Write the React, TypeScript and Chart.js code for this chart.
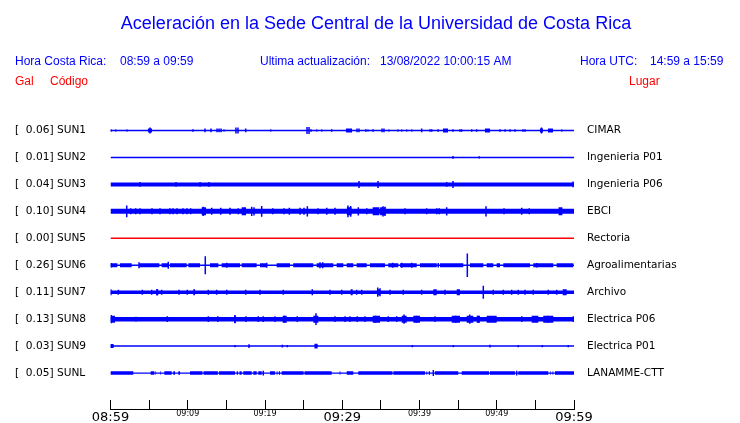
import { useEffect, useRef } from 'react';
import { Chart, registerables } from 'chart.js';

Chart.register(...registerables);

// ---------- header texts ----------
const TITLE = 'Aceleración en la Sede Central de la Universidad de Costa Rica';
const HORA_CR = ['Hora Costa Rica:', '08:59 a 09:59'];
const ACTUALIZACION = ['Ultima actualización:', '13/08/2022 10:00:15 AM'];
const HORA_UTC = ['Hora UTC:', '14:59 a 15:59'];
const COLUMN_HEADS = ['Gal', 'Código', 'Lugar'];

// ---------- stations ----------
const STATIONS = ['SUN1', 'SUN2', 'SUN3', 'SUN4', 'SUN5', 'SUN6', 'SUN7', 'SUN8', 'SUN9', 'SUNL'];
const PEAK_GAL = [0.06, 0.01, 0.04, 0.10, 0.00, 0.26, 0.11, 0.13, 0.03, 0.05];
const PLACES = ['CIMAR', 'Ingenieria P01', 'Ingenieria P06', 'EBCI', 'Rectoria', 'Agroalimentarias', 'Archivo', 'Electrica P06', 'Electrica P01', 'LANAMME-CTT'];

// time axis: minutes after 08:59
const TIME_TICKS = [0, 5, 10, 15, 20, 25, 30, 35, 40, 45, 50, 55, 60];
const TIME_LABELS = ['08:59', '', '09:09', '', '09:19', '', '09:29', '', '09:39', '', '09:49', '', '09:59'];
const MAJOR_TIMES = [0, 30, 60];

// bursts: [startMinute, endMinute] ; spikes: [minute, half amplitude in row units]
const SUN1_BURSTS = [[4.85, 5.37], [30.48, 31.26], [43.04, 43.69], [48.48, 49.13], [55.6, 55.99], [56.63, 57.28]];
const SUN1_SPIKES = [[0.06, 0.05], [0.67, 0.04], [2.14, 0.04], [5.11, 0.11], [10.68, 0.05], [12.23, 0.07], [13.01, 0.07], [13.79, 0.07], [14.05, 0.07], [14.31, 0.07], [14.69, 0.04], [16.24, 0.11], [16.5, 0.11], [17.5, 0.07], [20.74, 0.04], [25.44, 0.13], [25.7, 0.13], [25.95, 0.05], [26.69, 0.04], [27.34, 0.04], [28.63, 0.05], [31.91, 0.07], [32.17, 0.07], [33.06, 0.05], [33.33, 0.04], [33.98, 0.05], [35.15, 0.07], [35.4, 0.07], [36.05, 0.04], [37.22, 0.04], [37.7, 0.04], [38.34, 0.04], [38.99, 0.04], [40.28, 0.07], [41.36, 0.05], [41.58, 0.05], [42.4, 0.05], [44.33, 0.05], [45.24, 0.05], [45.46, 0.05], [46.76, 0.05], [47.4, 0.05], [50.42, 0.05], [51.07, 0.05], [51.72, 0.05], [52.36, 0.05], [53.4, 0.05], [53.66, 0.05], [55.79, 0.11], [58.41, 0.04]];

const SUN2_BURSTS: number[][] = [];
const SUN2_SPIKES = [[44.33, 0.05], [47.74, 0.04]];

const SUN3_BURSTS: number[][] = [];
const SUN3_SPIKES = [[3.82, 0.09], [8.48, 0.09], [11.59, 0.09], [12.75, 0.09], [32.17, 0.13], [34.63, 0.13], [43.52, 0.09], [44.33, 0.13], [59.87, 0.11]];

const SUN4_BURSTS = [[11.81, 12.36], [16.98, 17.54], [30.6, 31.2], [33.94, 34.8], [34.9, 35.6], [58.0, 58.5]];
const SUN4_SPIKES = [[2.1, 0.22], [2.61, 0.11], [3.26, 0.11], [3.82, 0.11], [5.37, 0.11], [6.41, 0.11], [7.7, 0.11], [8.09, 0.11], [8.61, 0.11], [9.39, 0.11], [9.9, 0.11], [10.38, 0.11], [12.0, 0.17], [13.1, 0.13], [14.27, 0.13], [15.47, 0.13], [16.54, 0.11], [18.28, 0.17], [18.58, 0.15], [19.57, 0.2], [21.0, 0.11], [22.46, 0.11], [23.15, 0.13], [24.53, 0.13], [25.05, 0.13], [25.48, 0.19], [26.86, 0.11], [27.99, 0.13], [29.06, 0.13], [30.74, 0.22], [31.09, 0.2], [32.08, 0.15], [33.17, 0.11], [35.28, 0.19], [35.53, 0.17], [38.12, 0.11], [40.93, 0.11], [42.23, 0.11], [42.56, 0.11], [43.52, 0.15], [48.61, 0.19], [50.94, 0.11], [53.23, 0.13], [54.21, 0.11]];

const SUN5_BURSTS: number[][] = [];
const SUN5_SPIKES: number[][] = [];

const SUN6_BURSTS = [[0, 0.88], [1.23, 2.74], [3.73, 6.32], [6.62, 7.48], [7.7, 9.86], [10.08, 11.59], [12.88, 13.96], [14.39, 16.76], [16.98, 18.92], [19.35, 20.22], [21.51, 23.24], [23.66, 26.25], [26.69, 28.84], [29.28, 30.14], [30.58, 31.43], [31.87, 33.17], [33.59, 35.53], [35.96, 37.26], [37.48, 39.64], [40.06, 42.23], [42.65, 45.67], [46.54, 48.26], [48.7, 49.55], [49.99, 50.42], [50.85, 54.31], [54.73, 57.32], [57.76, 59.91]];
const SUN6_SPIKES = [[0.1, 0.08], [3.69, 0.11], [7.48, 0.13], [12.27, 0.33], [15.04, 0.09], [20.22, 0.09], [27.12, 0.11], [27.47, 0.11], [36.53, 0.09], [37.7, 0.09], [38.99, 0.09], [42.43, 0.08], [46.19, 0.44], [55.17, 0.08]];

const SUN7_BURSTS = [[5.89, 6.19], [10.72, 10.94], [31.09, 31.35], [34.59, 34.89], [41.79, 42.23], [44.82, 45.24], [58.54, 59.05]];
const SUN7_SPIKES = [[0.05, 0.11], [1.01, 0.09], [4.12, 0.09], [5.33, 0.09], [6.04, 0.11], [6.62, 0.09], [8.87, 0.09], [9.94, 0.09], [12.66, 0.09], [13.74, 0.09], [15.04, 0.09], [17.5, 0.09], [19.35, 0.09], [22.37, 0.09], [26.12, 0.11], [28.41, 0.09], [29.93, 0.09], [31.87, 0.09], [32.52, 0.09], [34.59, 0.17], [34.89, 0.15], [36.18, 0.09], [37.9, 0.09], [40.28, 0.09], [43.3, 0.09], [48.26, 0.24], [49.55, 0.09], [50.85, 0.09], [51.93, 0.09], [52.79, 0.09], [53.66, 0.09], [54.73, 0.09], [56.67, 0.09], [57.76, 0.09]];

const SUN8_BURSTS = [[0, 0.58], [16.03, 16.25], [22.29, 22.81], [26.25, 26.9], [33.94, 34.89], [37.7, 38.34], [39.2, 40.06], [44.17, 45.24], [46.11, 46.97], [47.4, 47.83], [48.7, 49.99], [54.52, 55.38], [56.02, 57.32]];
const SUN8_SPIKES = [[0.1, 0.15], [3.3, 0.09], [7.35, 0.11], [12.66, 0.11], [13.88, 0.11], [16.1, 0.15], [17.54, 0.11], [19.13, 0.11], [19.78, 0.11], [21.29, 0.11], [22.5, 0.13], [24.18, 0.11], [26.6, 0.22], [29.06, 0.11], [30.36, 0.11], [31.0, 0.11], [31.95, 0.11], [32.94, 0.11], [34.3, 0.13], [35.96, 0.11], [37.05, 0.11], [38.0, 0.17], [39.6, 0.13], [42.01, 0.11], [44.7, 0.13], [46.5, 0.17], [47.6, 0.13], [49.3, 0.11], [53.23, 0.11], [55.0, 0.11], [56.6, 0.13], [59.91, 0.11]];

const SUN9_BURSTS = [[0, 0.36], [26.47, 26.77]];
const SUN9_SPIKES = [[0.1, 0.07], [0.3, 0.07], [16.12, 0.04], [17.93, 0.07], [22.24, 0.05], [22.89, 0.04], [26.5, 0.09], [26.7, 0.09], [39.07, 0.04], [44.38, 0.04], [49.13, 0.05], [52.79, 0.04], [55.9, 0.04], [59.26, 0.04]];

const SUNL_BURSTS = [[0, 2.95], [3.05, 3.12], [3.35, 3.43], [3.7, 3.77], [5.2, 5.67], [5.82, 5.9], [6.15, 6.23], [6.46, 6.54], [6.97, 7.92], [8.13, 8.35], [8.78, 9.0], [9.27, 9.34], [10.29, 11.9], [12.05, 13.9], [14.05, 16.12], [16.34, 16.5], [16.7, 16.98], [17.19, 18.28], [18.49, 18.92], [19.13, 19.57], [20.65, 21.29], [21.51, 21.62], [21.8, 21.94], [22.16, 25.0], [25.12, 28.63], [29.66, 29.76], [30.1, 30.19], [30.58, 31.43], [32.08, 36.5], [36.62, 40.71], [40.9, 41.0], [41.2, 41.36], [42.01, 45.02], [45.46, 49.0], [49.12, 52.36], [52.79, 56.67], [56.89, 56.98], [57.22, 57.32], [57.54, 60]];
const SUNL_SPIKES = [[19.78, 0.09], [41.79, 0.11], [52.58, 0.09]];

const ALL_BURSTS = [SUN1_BURSTS, SUN2_BURSTS, SUN3_BURSTS, SUN4_BURSTS, SUN5_BURSTS, SUN6_BURSTS, SUN7_BURSTS, SUN8_BURSTS, SUN9_BURSTS, SUNL_BURSTS];
const ALL_SPIKES = [SUN1_SPIKES, SUN2_SPIKES, SUN3_SPIKES, SUN4_SPIKES, SUN5_SPIKES, SUN6_SPIKES, SUN7_SPIKES, SUN8_SPIKES, SUN9_SPIKES, SUNL_SPIKES];

// ---------- styles ----------
const BLUE = '#0000ff';
const RED = '#ff0000';
const TRACE_COLORS = [BLUE, BLUE, BLUE, BLUE, RED, BLUE, BLUE, BLUE, BLUE, BLUE];
const BASE_WIDTH = [1.5, 1.5, 4, 5, 1.5, 1.5, 3.5, 4.5, 1.5, 1.2];
const BURST_WIDTH = [4, 4, 4, 8, 4, 4, 6, 7, 4, 3.5];

const LABEL_FONT = 'DejaVu Sans';
const HEAD_FONT = '"Liberation Sans", Arial, sans-serif';

function baseData(row: number) {
  return [{ x: 0, y: row }, { x: 60, y: row }];
}
function burstData(row: number, bursts: number[][]) {
  const pts: any[] = [];
  for (const [a, b] of bursts) {
    pts.push({ x: a, y: row }, { x: b, y: row }, { x: b, y: null });
  }
  return pts;
}
function spikeData(row: number, spikes: number[][]) {
  const pts: any[] = [];
  for (const [t, amp] of spikes) {
    pts.push({ x: t, y: row - amp }, { x: t, y: row + amp }, { x: t, y: null });
  }
  return pts;
}

const headerPlugin = {
  id: 'header',
  afterDraw(chart: any) {
    const ctx = chart.ctx;
    ctx.save();
    ctx.textBaseline = 'alphabetic';
    ctx.fillStyle = BLUE;
    ctx.textAlign = 'center';
    ctx.font = `18px ${HEAD_FONT}`;
    ctx.fillText(TITLE, 376, 29);
    ctx.textAlign = 'left';
    ctx.font = `12px ${HEAD_FONT}`;
    ctx.fillText(HORA_CR[0], 15, 65);
    ctx.fillText(HORA_CR[1], 120, 65);
    ctx.fillText(ACTUALIZACION[0], 260, 65);
    ctx.fillText(ACTUALIZACION[1], 380, 65);
    ctx.fillText(HORA_UTC[0], 580, 65);
    ctx.fillText(HORA_UTC[1], 650, 65);
    ctx.fillStyle = RED;
    ctx.fillText(COLUMN_HEADS[0], 15, 85);
    ctx.fillText(COLUMN_HEADS[1], 50, 85);
    ctx.fillText(COLUMN_HEADS[2], 629, 85);
    ctx.restore();
  },
};

export default function App() {
  const ref = useRef<HTMLCanvasElement>(null);
  useEffect(() => {
    document.body.style.margin = '0';
    const datasets: any[] = [];
    STATIONS.forEach((_, i) => {
      const common = {
        borderColor: TRACE_COLORS[i],
        backgroundColor: TRACE_COLORS[i],
        showLine: true,
        pointRadius: 0,
        pointHoverRadius: 0,
        spanGaps: false,
        borderCapStyle: 'butt',
        tension: 0,
      };
      datasets.push({ ...common, data: baseData(i), borderWidth: BASE_WIDTH[i] });
      datasets.push({ ...common, data: burstData(i, ALL_BURSTS[i]), borderWidth: BURST_WIDTH[i] });
      datasets.push({ ...common, data: spikeData(i, ALL_SPIKES[i]), borderWidth: 1.5 });
    });
    const rowTicks = () => STATIONS.map((_, i) => ({ value: i }));
    const chart = new Chart(ref.current!, {
      type: 'scatter',
      data: { datasets },
      plugins: [headerPlugin],
      options: {
        responsive: false,
        animation: false,
        events: [],
        layout: { padding: { left: 15, right: 0, top: 117, bottom: 0 } },
        plugins: { legend: { display: false }, tooltip: { enabled: false }, title: { display: false } },
        scales: {
          x: {
            type: 'linear',
            position: 'bottom',
            min: 0,
            max: 60,
            afterBuildTicks: (s: any) => { s.ticks = TIME_TICKS.map((v) => ({ value: v })); },
            afterFit: (s: any) => { s.height = 14; s.paddingLeft = 0; s.paddingRight = 0; },
            ticks: {
              autoSkip: false,
              maxRotation: 0,
              padding: 9.5,
              color: '#000',
              callback: (_v: any, idx: number) => TIME_LABELS[idx],
              font: (c: any) => ({ family: LABEL_FONT, size: c.tick && MAJOR_TIMES.includes(c.tick.value) ? 13 : 8 }),
            },
            grid: { drawOnChartArea: false, drawTicks: true, tickLength: -9, color: '#000', lineWidth: 1 },
            border: { display: true, color: '#000', width: 1 },
          },
          y: {
            type: 'linear',
            position: 'left',
            min: -0.5,
            max: 10.3333,
            reverse: true,
            afterBuildTicks: (s: any) => { s.ticks = rowTicks(); },
            afterFit: (s: any) => { s.width = 95.5; s.paddingTop = 0; s.paddingBottom = 0; },
            ticks: {
              crossAlign: 'far',
              color: '#000',
              font: { family: LABEL_FONT, size: 10.6 },
              callback: (_v: any, idx: number) => `[  ${PEAK_GAL[idx].toFixed(2)}] ${STATIONS[idx]}`,
            },
            grid: { display: false, drawTicks: false },
            border: { display: false },
          },
          y2: {
            type: 'linear',
            position: 'right',
            min: -0.5,
            max: 10.3333,
            reverse: true,
            afterBuildTicks: (s: any) => { s.ticks = rowTicks(); },
            afterFit: (s: any) => { s.width = 166; s.paddingTop = 0; s.paddingBottom = 0; },
            ticks: {
              crossAlign: 'near',
              padding: 13,
              color: '#000',
              font: { family: LABEL_FONT, size: 10.5 },
              callback: (_v: any, idx: number) => PLACES[idx],
            },
            grid: { display: false, drawTicks: false },
            border: { display: false },
          },
        },
      } as any,
    });
    return () => chart.destroy();
  }, []);
  return <canvas ref={ref} width={740} height={423} style={{ display: 'block' }} />;
}
